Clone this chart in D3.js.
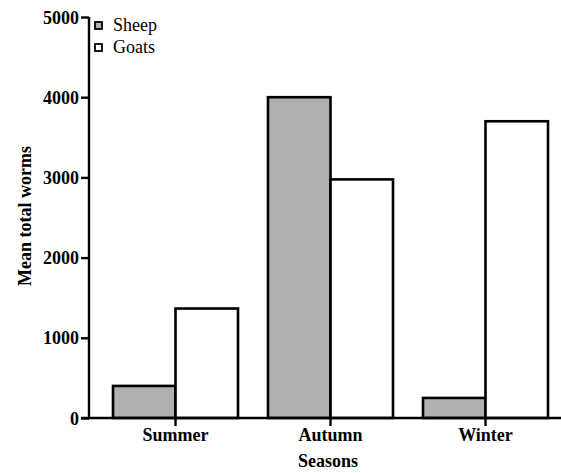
<!DOCTYPE html>
<html>
<head>
<meta charset="utf-8">
<script src="https://cdn.jsdelivr.net/npm/d3@7"></script>
<style>
  html, body { margin: 0; padding: 0; background: #fff; }
  svg { display: block; }
</style>
</head>
<body>
<svg id="chart" width="561" height="473"></svg>
<script>
// Mean total worm counts per season for each host species
const seasons = ["Summer", "Autumn", "Winter"];
const species = ["Sheep", "Goats"];
const sheepWorms = [400, 4000, 250];
const goatWorms = [1365, 2975, 3700];
const yTicks = [0, 1000, 2000, 3000, 4000, 5000];
const fills = ["#b0b0b0", "#ffffff"];

const FONT = "'Liberation Serif', 'Times New Roman', serif";
const SIZE = 18;
const rows = seasons.map((s, i) => ({ season: s, values: [sheepWorms[i], goatWorms[i]] }));

const svg = d3.select("#chart");
const axisX = 89, baseY = 418, topY = 17;

const x0 = d3.scaleBand().domain(seasons).range([98, 563])
  .paddingInner(0.1935).paddingOuter(0.0968);
const x1 = d3.scaleBand().domain(species).range([0, x0.bandwidth()]);
const y = d3.scaleLinear().domain([0, 5000]).range([baseY, topY]);

// Bars
const groups = svg.append("g").selectAll("g").data(rows).join("g")
  .attr("transform", d => `translate(${x0(d.season)},0)`);
groups.selectAll("rect").data(d => d.values.map((v, j) => ({ v, j })))
  .join("rect")
  .attr("x", d => x1(species[d.j]))
  .attr("y", d => y(d.v))
  .attr("width", x1.bandwidth())
  .attr("height", d => baseY - y(d.v))
  .attr("fill", d => fills[d.j])
  .attr("stroke", "#000")
  .attr("stroke-width", 2.6);

// Y axis
const yAxis = d3.axisLeft(y).tickValues(yTicks).tickSize(8).tickPadding(2).tickFormat(d3.format("d"));
const gy = svg.append("g").attr("transform", `translate(${axisX},0)`).call(yAxis)
  .attr("font-family", FONT);
gy.select(".domain").attr("d", `M0,${topY}V${baseY}`).attr("stroke-width", 2.4);
gy.selectAll(".tick line").attr("stroke-width", 2.4);
gy.selectAll(".tick text").style("font-family", FONT).attr("font-weight", "bold")
  .attr("font-size", SIZE).attr("dy", "0.34em");

// X axis (baseline runs to the right edge)
const xAxis = d3.axisBottom(x0).tickSize(8).tickPadding(2);
const gx = svg.append("g").attr("transform", `translate(0,${baseY})`).call(xAxis)
  .attr("font-family", FONT);
gx.select(".domain").attr("d", `M${axisX - 8},0H561`).attr("stroke-width", 2.4);
gx.selectAll(".tick line").attr("stroke-width", 2.4);
gx.selectAll(".tick text").style("font-family", FONT).attr("font-weight", "bold")
  .attr("font-size", SIZE);

// Axis titles
svg.append("text")
  .attr("transform", `translate(31,216) rotate(-90)`)
  .style("font-family", FONT)
  .attr("text-anchor", "middle").attr("font-weight", "bold").attr("font-size", SIZE)
  .text("Mean total worms");
svg.append("text")
  .attr("x", 328).attr("y", 467)
  .style("font-family", FONT)
  .attr("text-anchor", "middle").attr("font-weight", "bold").attr("font-size", SIZE)
  .text("Seasons");

// Legend
const legend = svg.append("g").attr("transform", "translate(95,22)");
const items = legend.selectAll("g").data(species).join("g")
  .attr("transform", (d, i) => `translate(0,${i * 22})`);
items.append("rect").attr("width", 7).attr("height", 7)
  .attr("fill", (d, i) => fills[i]).attr("stroke", "#000").attr("stroke-width", 1.8);
items.append("text").attr("x", 18).attr("y", 8.5)
  .style("font-family", FONT).attr("font-size", SIZE).text(d => d);
</script>
</body>
</html>
